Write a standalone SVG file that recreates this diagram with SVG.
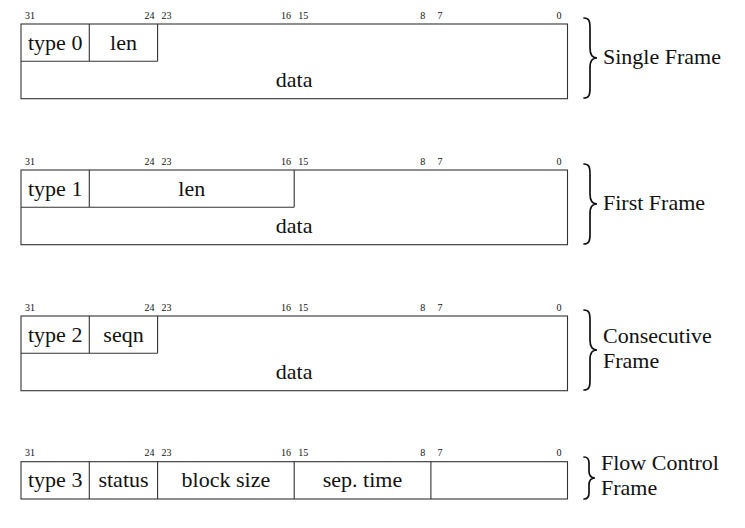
<svg xmlns="http://www.w3.org/2000/svg" width="745" height="528" viewBox="0 0 745 528">
<style>
text{font-family:"Liberation Serif",serif;fill:#111}
.box{fill:none;stroke:#333;stroke-width:1.1}
.ln{fill:none;stroke:#333;stroke-width:1.1}
.t{font-size:22px;text-anchor:middle}
.lab{font-size:22px}
.b{font-size:10px;text-anchor:middle}
.br{fill:none;stroke:#111;stroke-width:1.7;stroke-linecap:round}
</style>
<defs>
<g id="bits">
<text class="b" x="30" y="0">31</text>
<text class="b" x="149.5" y="0">24</text>
<text class="b" x="166.6" y="0">23</text>
<text class="b" x="286.1" y="0">16</text>
<text class="b" x="303.2" y="0">15</text>
<text class="b" x="422.8" y="0">8</text>
<text class="b" x="439.9" y="0">7</text>
<text class="b" x="559" y="0">0</text>
</g>
<path id="brace" d="M0,0C5,0 6,3 6,10V30C6,37 8,40 13,40C8,40 6,43 6,50V70C6,77 5,80 0,80"/>
</defs>

<g id="connectors">
<path class="ln" d="M21,61.3H157.6M89.3,24V61.3M157.6,24V61.3"/>
<path class="ln" d="M21,207.3H294.2M89.3,170V207.3M294.2,170V207.3"/>
<path class="ln" d="M21,353.3H157.6M89.3,316V353.3M157.6,316V353.3"/>
<path class="ln" d="M89.3,461.7V499M157.6,461.7V499M294.2,461.7V499M430.9,461.7V499"/>
</g>

<g id="single-frame">
<use href="#bits" y="18.5"/>
<rect class="box" x="21" y="24" width="546.5" height="74.7"/>
<text class="t" x="55.2" y="49.5">type 0</text>
<text class="t" x="123.5" y="49.5">len</text>
<text class="t" x="294.2" y="87">data</text>
<use class="br" href="#brace" x="584" y="18"/>
<text class="lab" x="603" y="64">Single Frame</text>
</g>

<g id="first-frame">
<use href="#bits" y="164.5"/>
<rect class="box" x="21" y="170" width="546.5" height="74.7"/>
<text class="t" x="55.2" y="195.5">type 1</text>
<text class="t" x="191.8" y="195.5">len</text>
<text class="t" x="294.2" y="233">data</text>
<use class="br" href="#brace" x="584" y="164"/>
<text class="lab" x="603" y="210">First Frame</text>
</g>

<g id="consecutive-frame">
<use href="#bits" y="310.5"/>
<rect class="box" x="21" y="316" width="546.5" height="74.7"/>
<text class="t" x="55.2" y="341.5">type 2</text>
<text class="t" x="123.5" y="341.5">seqn</text>
<text class="t" x="294.2" y="379">data</text>
<use class="br" href="#brace" x="584" y="310"/>
<text class="lab" x="603" y="343">Consecutive</text>
<text class="lab" x="603" y="368">Frame</text>
</g>

<g id="flow-control-frame">
<use href="#bits" y="456"/>
<rect class="box" x="21" y="461.7" width="546.5" height="37.3"/>
<text class="t" x="55.2" y="487">type 3</text>
<text class="t" x="123.5" y="487">status</text>
<text class="t" x="225.9" y="487">block size</text>
<text class="t" x="362.5" y="487">sep. time</text>
<path class="br" d="M584,457C588,457 589,459 589,463V471C589,475 591,478 595,478C591,478 589,481 589,485V493C589,497 588,499 584,499"/>
<text class="lab" x="601" y="470">Flow Control</text>
<text class="lab" x="601" y="495">Frame</text>
</g>
</svg>
